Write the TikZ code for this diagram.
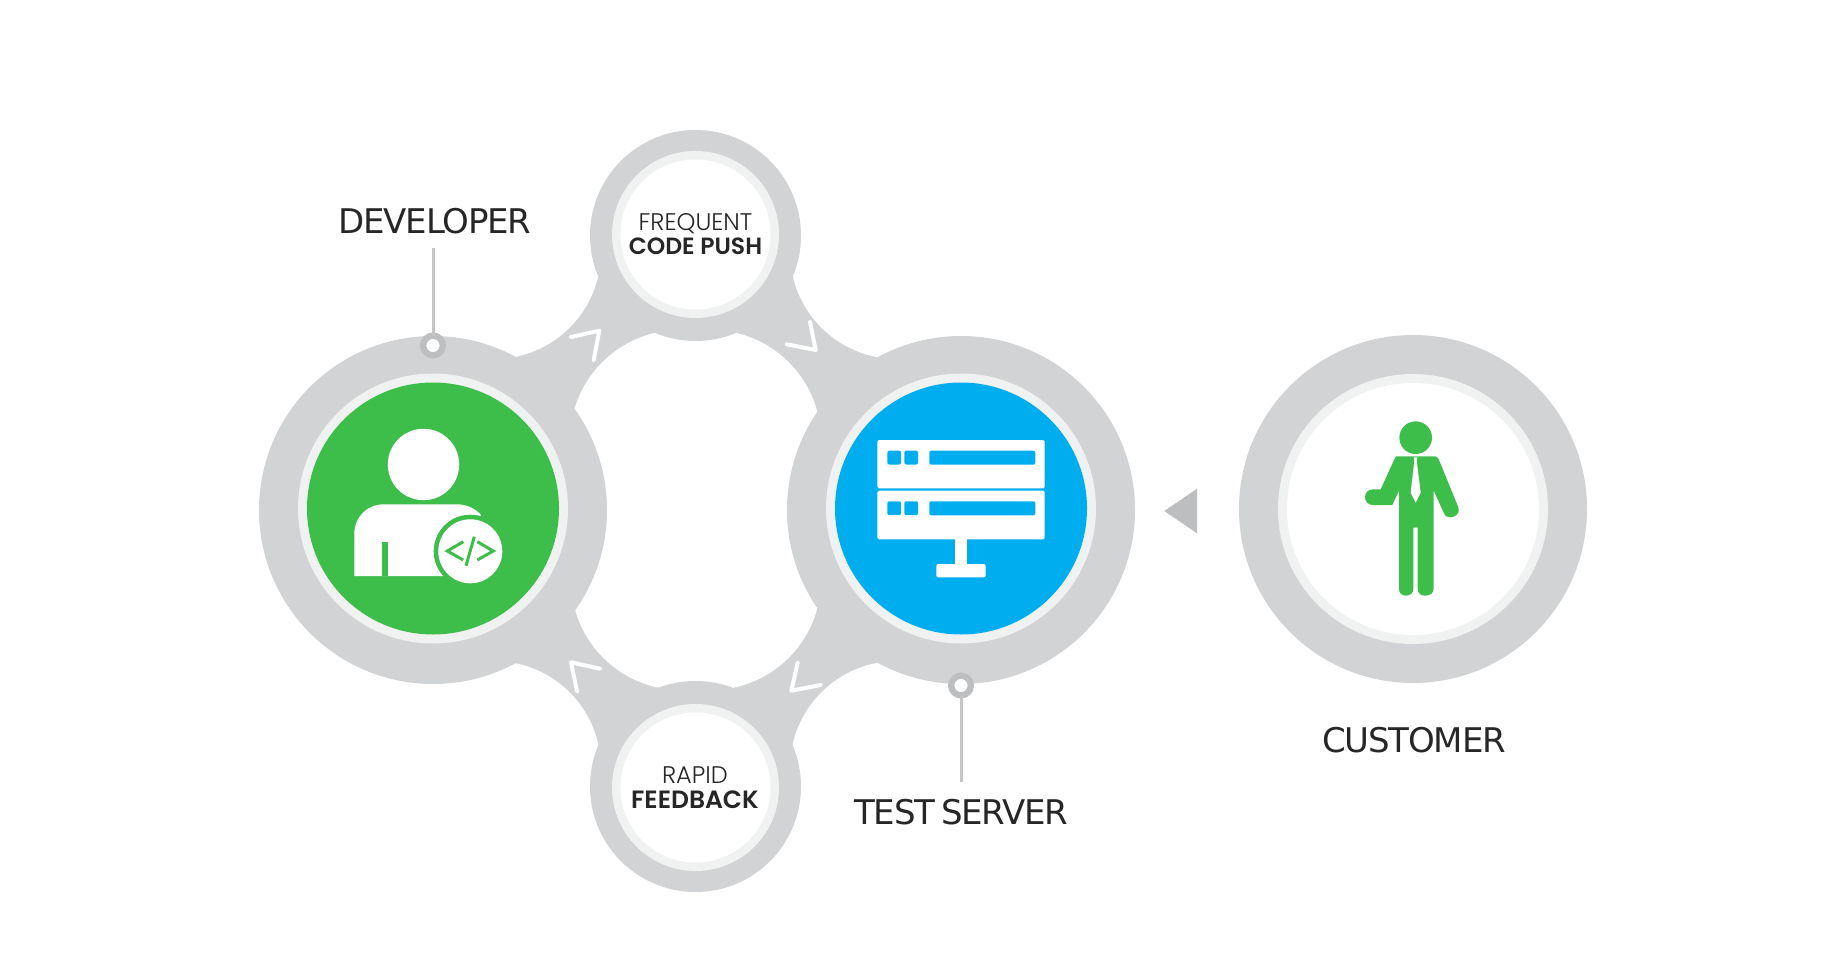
\documentclass[tikz,border=0pt]{standalone}
\usepackage{fontspec}
\setmainfont{DejaVu Sans}
\newfontfamily\labelfont{DejaVu Sans}[LetterSpace=-3.5]
\newfontfamily\lightfont{Poppins Light}
\newfontfamily\boldfont{Poppins SemiBold}
\definecolor{web}{HTML}{D1D3D4}
\definecolor{ringc}{HTML}{F0F2F1}
\definecolor{devgreen}{HTML}{3DBE4B}
\definecolor{srvblue}{HTML}{00AEEF}
\definecolor{dotgrey}{HTML}{BCBEC0}
\definecolor{ink}{HTML}{262626}
\tikzset{
  x=1pt,y=-1pt,
  disc/.style={circle,inner sep=0pt,outer sep=0pt,minimum size=#1},
  bigout/.style={disc=348pt,fill=web},
  bigring/.style={disc=270pt,fill=ringc},
  bigin/.style={disc=252pt},
  smallout/.style={disc=211pt,fill=web},
  smallring/.style={disc=167pt,fill=ringc},
  smallin/.style={disc=150pt,fill=white},
  dotmark/.style={disc=19.7pt,fill=white,draw=dotgrey,line width=6.3pt},
  leader/.style={draw=dotgrey!90,line width=3pt},
  chev/.style={draw=white,line width=4pt,line cap=round,line join=round},
  biglabel/.style={font=\labelfont\fontsize{34}{34}\selectfont,text=ink,anchor=base,inner sep=0pt},
  lightlabel/.style={font=\lightfont\fontsize{24}{24}\selectfont,text=ink,anchor=base,inner sep=0pt},
  boldlabel/.style={font=\boldfont\fontsize{#1}{#1}\selectfont,text=ink,anchor=base,inner sep=0pt},
  carve/.style={fill=white},
  code/.style={draw=devgreen,line width=3pt}
}
\begin{document}
\begin{tikzpicture}
\useasboundingbox (0,0) rectangle (1846,965);
% web between circles
\fill[web] (517,357) -- (597,275) -- (793,275) -- (877,357) -- (877,663) -- (794,747) -- (597,747) -- (515,663) -- cycle;
% outer concave bites
\fill[carve] (494,252) circle[radius=107];
\fill[carve] (897,252) circle[radius=107];
\fill[carve] (494,768) circle[radius=107];
\fill[carve] (897,768) circle[radius=107];
% central hole
\fill[carve] (680,440) circle[radius=110];
\fill[carve] (711,440) circle[radius=110];
\fill[carve] (681,580) circle[radius=110];
\fill[carve] (711,580) circle[radius=110];
\fill[carve] (600,430) rectangle (790,590);
% circles
\node[smallout] (topo) at (695.5,235.5) {};
\node[smallring] (topr) at (695.5,234.5) {};
\node[smallin] (topi) at (695.5,234.5) {};
\node[smallout] (boto) at (695.5,786.5) {};
\node[smallring] (botr) at (695.5,787.5) {};
\node[smallin] (boti) at (695.5,787.5) {};
\node[bigout] (devo) at (433,510) {};
\node[bigring] (devr) at (433,508.5) {};
\node[bigin,fill=devgreen] (devi) at (433,508.5) {};
\node[bigout] (srvo) at (961,510) {};
\node[bigring] (srvr) at (961,508.5) {};
\node[bigin,fill=srvblue] (srvi) at (961,508.5) {};
\node[bigout] (cuso) at (1413,509) {};
\node[bigring] (cusr) at (1413,509) {};
\node[bigin,fill=white] (cusi) at (1413,509) {};
\draw[chev] (571,337) -- (599.3,330.7) -- (593.7,360);
\draw[chev] (810,322) -- (815.7,350) -- (786.7,344.3);
\draw[chev] (600,668.7) -- (571,662.3) -- (577,691.3);
\draw[chev] (797.7,662.7) -- (791.3,690.7) -- (820.7,685);
% developer icon
\fill[white] (423.5,464.5) circle[radius=35.7];
\fill[white] (354.3,576) -- (354.3,534) .. controls (354.3,517) and (367,504.3) .. (384,504.3) -- (457,504.3) .. controls (466,504.3) and (475,508) .. (481,515) -- (470,551) -- (443,576) -- cycle;
\fill[devgreen] (382.3,542) rectangle (388,576);
\fill[devgreen] (470.3,551.3) circle[radius=36.6];
\fill[white] (470.3,551.3) circle[radius=32];
\draw[code] (463.3,541.7) -- (447.3,551) -- (463.3,560);
\draw[code] (474.3,536.7) -- (466,565.7);
\draw[code] (477.3,541.7) -- (493.3,551) -- (477.3,560);
% server icon
\fill[white,rounded corners=1.5] (877.3,440) rectangle (1044.7,488.3);
\fill[white,rounded corners=1.5] (877.3,490.7) rectangle (1044.7,539.3);
\foreach \yy in {450.7,501.3}{
  \fill[srvblue,rounded corners=2] (887.3,\yy) rectangle ++(13.7,13.8);
  \fill[srvblue,rounded corners=2] (904.3,\yy) rectangle ++(13.7,13.8);
  \fill[srvblue,rounded corners=2] (929.3,\yy) rectangle ++(106,14);
}
\fill[white] (955,538) rectangle (966.7,566);
\fill[white,rounded corners=2] (936.3,564) rectangle (985.7,577.3);
% customer icon
\begin{scope}[shift={(1130,380)},x=0.33333pt,y=-0.33333pt]
\fill[devgreen] (857,173) circle[radius=49];
\fill[devgreen] (800,229) -- (915,229) .. controls (922,230) and (925,235) .. (927,240) -- (985,382) .. controls (992,400) and (975,412) .. (960,412) .. controls (950,412) and (945,408) .. (942,400) -- (911,332) -- (911,625) .. controls (911,640) and (900,647) .. (885,647) .. controls (872,647) and (863,640) .. (863,625) -- (863,443) -- (850,443) -- (850,625) .. controls (850,640) and (840,647) .. (828,647) .. controls (815,647) and (807,640) .. (807,625) -- (807,332) -- (787,375) -- (728,375) .. controls (715,375) and (705,365) .. (705,351) .. controls (705,338) and (715,328) .. (728,328) -- (752,328) -- (792,240) .. controls (794,234) and (797,230) .. (800,229) -- cycle;
\fill[white] (851,232) -- (862,232) -- (860,242) -- (872,338) -- (857,368) -- (842,338) -- (853,242) -- cycle;
\end{scope}
% arrow triangle
\fill[dotgrey] (1164.3,511) -- (1197,488.7) -- (1197,533.3) -- cycle;
% labels and leaders
\node[biglabel] (devlabel) at (435,233.5) {DEVELOPER};
\node[biglabel] (srvlabel) at (961.3,824.5) {TEST\hspace{-4pt} SERVER};
\node[biglabel] (cuslabel) at (1414,752.5) {CUSTOMER};
\coordinate (devend) at (433,248);
\coordinate (srvend) at (961,782);
\node[dotmark] (devdot) at (433,345.5) {};
\node[dotmark] (srvdot) at (961,685.5) {};
\draw[leader] (devend) -- (devdot);
\draw[leader] (srvend) -- (srvdot);
\node[lightlabel] (freq) at (695.5,231) {FREQUENT};
\node[boldlabel=23.5] (push) at (695.5,255) {CODE PUSH};
\node[lightlabel] (rapid) at (695,783.3) {RAPID};
\node[boldlabel=25] (feed) at (695,808.7) {FEEDBACK};
\end{tikzpicture}
\end{document}
